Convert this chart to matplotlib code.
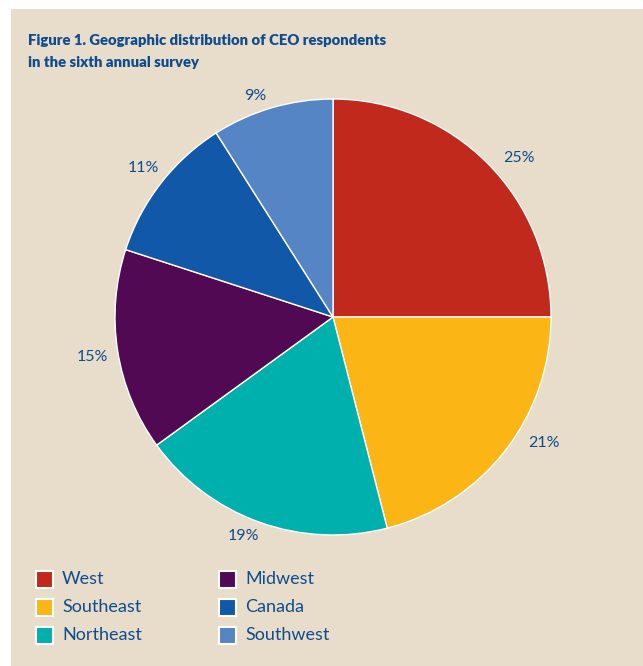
import matplotlib
matplotlib.use('Agg')
import matplotlib.pyplot as plt
from matplotlib.patches import Rectangle

regions = ['West', 'Southeast', 'Northeast', 'Midwest', 'Canada', 'Southwest']
shares = [25, 21, 19, 15, 11, 9]
colors = ['#c0291b', '#fbb616', '#00b0ad', '#520954', '#1159a8', '#5585c5']
title_lines = ['Figure 1. Geographic distribution of CEO respondents',
               'in the sixth annual survey']

W, H = 643, 666
text_blue = '#0f4c8e'
panel = '#e8ddca'
plt.rcParams['font.family'] = ['Lato', 'DejaVu Sans']

# where each percentage label sits, in pie units (radius = 1)
label_xy = [(0.855, 0.729), (0.968, -0.578), (-0.413, -1.005),
            (-1.106, -0.183), (-0.872, 0.683), (-0.358, 1.014)]

fig = plt.figure(figsize=(W / 100, H / 100), dpi=100)
fig.patch.set_facecolor('white')
fig.patches.append(Rectangle((11 / W, 0), 1 - 11 / W, 1 - 9 / H,
                             transform=fig.transFigure, facecolor=panel,
                             edgecolor='none', zorder=-10))

for k, line in enumerate(title_lines):
    fig.text(28 / W, 1 - (45 + 22 * k) / H, line, color=text_blue,
             fontsize=10.7, fontweight='heavy', va='baseline')

# pie centred at (333, 317) px, radius 218 px
r = 218
ax = fig.add_axes([(333 - r) / W, (H - 317 - r) / H, 2 * r / W, 2 * r / H])
wedges, texts = ax.pie(shares, colors=colors, startangle=90, counterclock=False,
                       labels=['%d%%' % s for s in shares],
                       wedgeprops=dict(edgecolor='white', linewidth=1.0),
                       textprops=dict(color=text_blue, fontsize=11.5))
for t, xy in zip(texts, label_xy):
    t.set_position(xy)
    t.set_ha('center')
    t.set_va('center')
ax.set_xlim(-1, 1)
ax.set_ylim(-1, 1)
ax.set_aspect('equal')
ax.axis('off')

# legend, two columns of three
sq = 17
for i, (name, c) in enumerate(zip(regions, colors)):
    col, row = divmod(i, 3)
    x0 = 36 + col * 183
    yc = 579 + row * 28
    fig.patches.append(Rectangle((x0 / W, (H - yc - sq / 2) / H), sq / W, sq / H,
                                 transform=fig.transFigure, facecolor=c,
                                 edgecolor='white', linewidth=1.5, zorder=2))
    fig.text((x0 + 26) / W, (H - yc) / H, name, color=text_blue,
             fontsize=13, va='center', ha='left')

fig.savefig('out.png', dpi=100, facecolor=fig.get_facecolor())
